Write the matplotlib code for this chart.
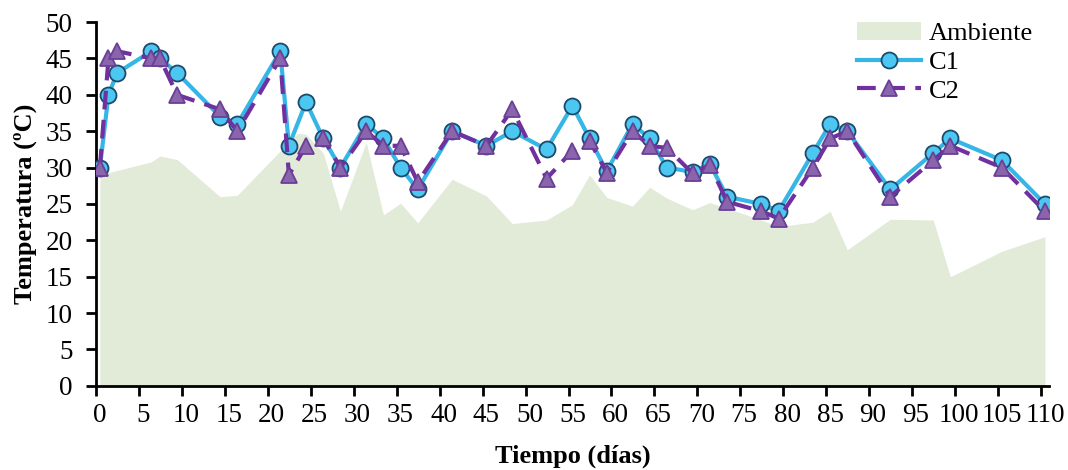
import matplotlib.pyplot as plt
import numpy as np

plt.rcParams['font.family'] = ['Liberation Serif', 'DejaVu Serif']

# datos
dias_amb = [0, 6, 7, 9, 14, 16, 21, 23, 24, 26, 28, 31, 33, 35, 37, 41, 45, 48, 52,
            55, 57, 59, 62, 64, 66, 69, 71, 73, 77, 79, 83, 85, 87, 92, 97, 99, 105, 110]
ambiente = [29, 30.8, 31.6, 31.1, 26, 26.2, 32.3, 34.7, 34.6, 32, 24, 33.5, 23.5, 25.1,
            22.4, 28.4, 26.1, 22.3, 22.8, 24.9, 29, 25.9, 24.7, 27.3, 25.8, 24.2, 25.2,
            24.4, 22.8, 21.9, 22.5, 24, 18.7, 22.9, 22.8, 15, 18.5, 20.5]

dias = [0, 1, 2, 6, 7, 9, 14, 16, 21, 22, 24, 26, 28, 31, 33, 35, 37, 41, 45, 48, 52,
        55, 57, 59, 62, 64, 66, 69, 71, 73, 77, 79, 83, 85, 87, 92, 97, 99, 105, 110]
c1 = [30, 40, 43, 46, 45, 43, 37, 36, 46, 33, 39, 34, 30, 36, 34, 30, 27, 35, 33, 35,
      32.5, 38.5, 34, 29.5, 36, 34, 30, 29.4, 30.5, 26, 25, 24, 32, 36, 35, 27, 32, 34, 31, 25]
c2 = [30, 45, 46, 45, 45, 40, 38, 35, 45, 29, 33, 34, 30, 35, 33, 33, 28, 35, 33, 38,
      28.5, 32.3, 33.7, 29.3, 35, 33, 32.7, 29.2, 30.4, 25.3, 24, 23, 30, 34, 35, 26, 31, 33, 30, 24]

fig, ax = plt.subplots(figsize=(10.68, 4.70), dpi=100)
fig.subplots_adjust(left=0.0899, right=0.982, top=0.953, bottom=0.179)

ax.fill_between(dias_amb, ambiente, 0, color='#e1ebd7', lw=0, label='Ambiente', zorder=1)
ax.plot(dias, c1, color='#35b6e6', lw=3, marker='o', ms=11.5, mfc='#4cc7f2',
        mec='#1d4a6b', mew=1.3, label='C1', zorder=3)
ax.plot(dias, c2, color='#7030a0', lw=3, ls=(0, (4.5, 2.5)), marker='^', ms=11.5,
        mfc='#8a64ac', mec='#6a3f96', mew=1.3, label='C2', zorder=4)

ax.set_ylim(0, 50)
ax.set_xlim(-0.4, 110.45)
ax.set_yticks(np.arange(0, 51, 5))
ax.set_xticks(np.arange(0, 111, 5))
ax.set_xticks(np.arange(0, 111, 5) - 0.45, minor=True)
ax.tick_params(axis='x', which='major', length=0, pad=12, labelsize=19.5)
ax.tick_params(axis='x', which='minor', length=7, width=2, direction='out')
ax.tick_params(axis='y', length=7, width=2, labelsize=19.5, pad=10)

for s in ['top', 'right']:
    ax.spines[s].set_visible(False)
for s in ['left', 'bottom']:
    ax.spines[s].set_linewidth(2)

ax.set_xlabel('Tiempo (días)', fontsize=19, fontweight='bold', labelpad=12)
ax.set_ylabel('Temperatura (ºC)', fontsize=19, fontweight='bold', labelpad=6)

ax.legend(loc='upper right', bbox_to_anchor=(1.0, 1.045), frameon=False, fontsize=19,
          handlelength=2.4, handletextpad=0.3, labelspacing=0.2, borderaxespad=0.2)

fig.savefig('out.png', dpi=100)
